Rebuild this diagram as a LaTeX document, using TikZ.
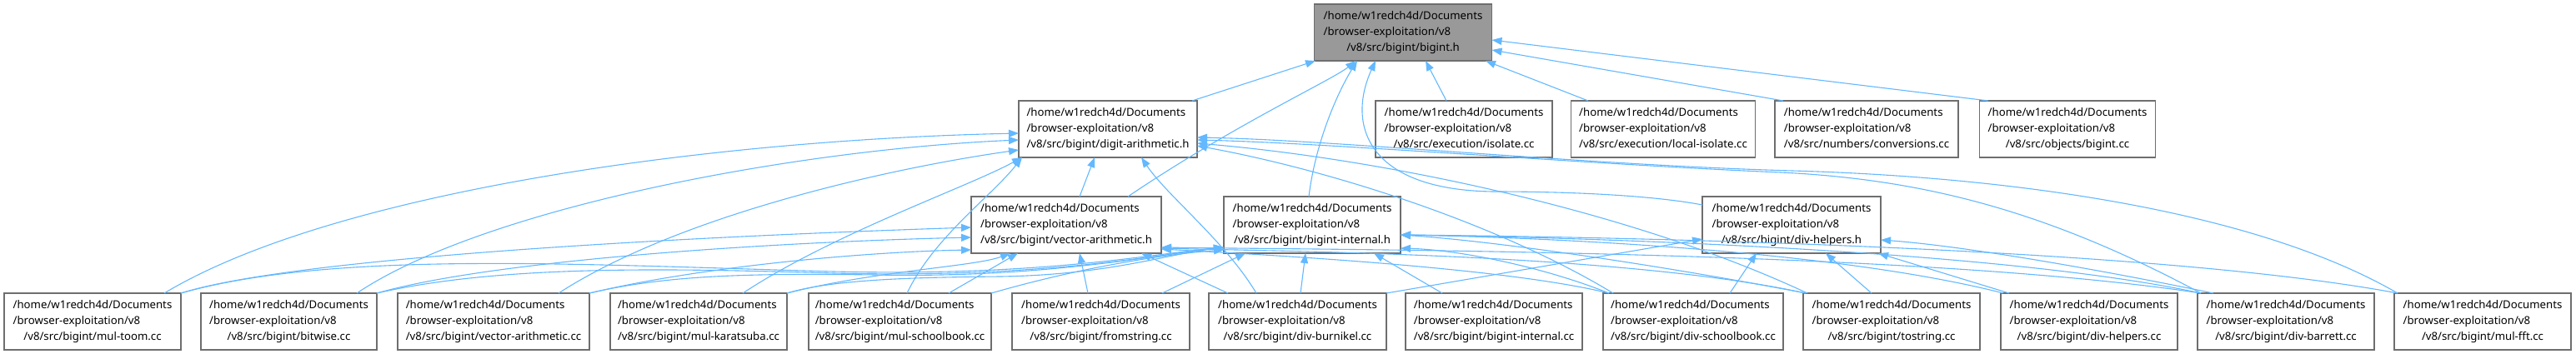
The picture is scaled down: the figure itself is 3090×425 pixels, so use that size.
\documentclass[tikz,border=0pt]{standalone}
\usepackage{fontspec}
\setmainfont{Noto Sans}
\usetikzlibrary{arrows.meta}
\definecolor{edgeblue}{HTML}{63B8FF}
\definecolor{boxgray}{HTML}{6E6E6E}
\definecolor{rootfill}{HTML}{999999}
\newcommand\lbl[1]{\begin{tabular}{@{}l@{}}/home/w1redch4d/Documents\\/browser-exploitation/v8\\\multicolumn{1}{@{}c@{}}{#1}\end{tabular}}
\newcommand\nd[3]{([shift={(#2,#3)}]#1.center)}
\tikzset{
  box/.style={draw=boxgray, line width=1.4pt, fill=white, inner sep=0pt, minimum height=68pt, font=\fontsize{13.2}{19}\selectfont},
  root/.style={box, fill=rootfill},
  conn/.style={draw=edgeblue, line width=1.1pt, -{Triangle[length=12pt,width=9pt]}}
}
\begin{document}
\begin{tikzpicture}[x=1pt,y=-1pt]
\useasboundingbox (0,0) rectangle (3090,425);
% row 0
\node[root, minimum width=213pt] (big) at (1683,39) {\lbl{/v8/src/bigint/bigint.h}};
% row 1
\node[box, minimum width=214pt] (dah) at (1329,155) {\lbl{/v8/src/bigint/digit-arithmetic.h}};
\node[box, minimum width=212pt] (iso) at (1756,155) {\lbl{/v8/src/execution/isolate.cc}};
\node[box, minimum width=221pt] (liso) at (1995,155) {\lbl{/v8/src/execution/local-isolate.cc}};
\node[box, minimum width=220pt] (conv) at (2239,155) {\lbl{/v8/src/numbers/conversions.cc}};
\node[box, minimum width=211pt] (obj) at (2480,155) {\lbl{/v8/src/objects/bigint.cc}};
% row 2
\node[box, minimum width=228pt] (vah) at (1279,270) {\lbl{/v8/src/bigint/vector-arithmetic.h}};
\node[box, minimum width=212pt] (bih) at (1574,270) {\lbl{/v8/src/bigint/bigint-internal.h}};
\node[box, minimum width=214pt] (dhh) at (2149,270) {\lbl{/v8/src/bigint/div-helpers.h}};
% row 3
\node[box, minimum width=212pt] (mt) at (111,386) {\lbl{/v8/src/bigint/mul-toom.cc}};
\node[box, minimum width=211pt] (bw) at (346.5,386) {\lbl{/v8/src/bigint/bitwise.cc}};
\node[box, minimum width=230pt] (vac) at (592,386) {\lbl{/v8/src/bigint/vector-arithmetic.cc}};
\node[box, minimum width=212pt] (ka) at (838,386) {\lbl{/v8/src/bigint/mul-karatsuba.cc}};
\node[box, minimum width=219pt] (sb) at (1079.5,386) {\lbl{/v8/src/bigint/mul-schoolbook.cc}};
\node[box, minimum width=213pt] (fs) at (1320.5,386) {\lbl{/v8/src/bigint/fromstring.cc}};
\node[box, minimum width=213pt] (db) at (1556.5,386) {\lbl{/v8/src/bigint/div-burnikel.cc}};
\node[box, minimum width=212pt] (bic) at (1792,386) {\lbl{/v8/src/bigint/bigint-internal.cc}};
\node[box, minimum width=216pt] (ds) at (2031,386) {\lbl{/v8/src/bigint/div-schoolbook.cc}};
\node[box, minimum width=212pt] (ts) at (2269,386) {\lbl{/v8/src/bigint/tostring.cc}};
\node[box, minimum width=212pt] (dhc) at (2506,386) {\lbl{/v8/src/bigint/div-helpers.cc}};
\node[box, minimum width=212pt] (dbar) at (2742,386) {\lbl{/v8/src/bigint/div-barrett.cc}};
\node[box, minimum width=212pt] (fft) at (2978,386) {\lbl{/v8/src/bigint/mul-fft.cc}};

% ---- edges into bigint.h
\draw[conn] \nd{dah}{101}{-34} -- \nd{big}{-105}{34};
\draw[conn] \nd{vah}{74}{-34} .. controls (1480,150) and (1600,95) .. \nd{big}{-57}{34};
\draw[conn] \nd{bih}{-4}{-34} .. controls (1578,170) and (1605,110) .. \nd{big}{-55}{34};
\draw[conn] \nd{dhh}{-107}{-24} .. controls (1990,236) and (1900,230) .. (1791,230) .. controls (1640,228) and (1615,150) .. \nd{big}{-33}{34};
\draw[conn] \nd{iso}{-21}{-34} -- \nd{big}{27}{34};
\draw[conn] \nd{liso}{-90}{-34} -- \nd{big}{99}{34};
\draw[conn] \nd{conv}{-100}{-34} -- \nd{big}{106.5}{21};
\draw[conn] \nd{obj}{-95}{-34} -- \nd{big}{106.5}{9};

% ---- edges into digit-arithmetic.h
\draw[conn] \nd{mt}{86}{-34} .. controls (400,230) and (850,168) .. \nd{dah}{-107}{5};
\draw[conn] \nd{bw}{81.5}{-34} .. controls (580,250) and (950,180) .. \nd{dah}{-107}{13};
\draw[conn] \nd{vac}{78}{-34} .. controls (820,255) and (1080,200) .. \nd{dah}{-107}{25};
\draw[conn] \nd{ka}{53}{-34} .. controls (1000,280) and (1160,225) .. \nd{dah}{-103}{34};
\draw[conn] \nd{sb}{8.5}{-34} .. controls (1120,285) and (1190,235) .. \nd{dah}{-103}{34};
\draw[conn] \nd{vah}{16}{-34} -- \nd{dah}{-16}{34};
\draw[conn] \nd{db}{-49.5}{-34} .. controls (1470,290) and (1400,235) .. \nd{dah}{40}{34};
\draw[conn] \nd{ds}{-96}{-34} .. controls (1800,270) and (1600,205) .. \nd{dah}{107}{20};
\draw[conn] \nd{ts}{-101}{-34} .. controls (1950,250) and (1650,190) .. \nd{dah}{107}{17};
\draw[conn] \nd{dbar}{-102}{-34} .. controls (2450,250) and (2300,215) .. (2136,207) .. controls (1900,197) and (1600,172) .. \nd{dah}{107}{13};
\draw[conn] \nd{fft}{-102}{-34} .. controls (2700,250) and (2400,212) .. (2150,205) .. controls (1900,198) and (1600,168) .. \nd{dah}{107}{10};

% ---- edges into vector-arithmetic.h
\draw[conn] \nd{mt}{106}{-34} .. controls (350,310) and (800,285) .. \nd{vah}{-114}{3};
\draw[conn] \nd{bw}{105.5}{-34} .. controls (600,310) and (950,290) .. \nd{vah}{-114}{15};
\draw[conn] \nd{vac}{115}{-34} .. controls (850,318) and (1050,302) .. \nd{vah}{-114}{30};
\draw[conn] \nd{ka}{106}{-34} .. controls (1050,325) and (1170,320) .. \nd{vah}{-67}{34};
\draw[conn] \nd{sb}{58.5}{-34} -- \nd{vah}{-58}{34};
\draw[conn] \nd{fs}{-15.5}{-34} -- \nd{vah}{16}{34};
\draw[conn] \nd{db}{-83.5}{-34} -- \nd{vah}{90}{34};
\draw[conn] \nd{ds}{-101}{-34} .. controls (1800,320) and (1500,305) .. \nd{vah}{114}{29};
\draw[conn] \nd{ts}{-103}{-34} .. controls (1950,305) and (1550,302) .. \nd{vah}{114}{28};
\draw[conn] \nd{dbar}{-102}{-34} .. controls (2300,300) and (1600,300) .. \nd{vah}{114}{27};

% ---- edges into bigint-internal.h
\draw[conn] \nd{mt}{106}{-34} .. controls (400,300) and (700,318) .. (1000,326) .. controls (1250,332) and (1380,305) .. \nd{bih}{-106}{27};
\draw[conn] \nd{bw}{105.5}{-34} .. controls (600,318) and (800,322) .. (1000,328) .. controls (1250,334) and (1380,307) .. \nd{bih}{-106}{27};
\draw[conn] \nd{vac}{115}{-34} .. controls (800,330) and (900,328) .. (1050,330) .. controls (1250,334) and (1380,307) .. \nd{bih}{-106}{27};
\draw[conn] \nd{ka}{106}{-34} .. controls (1000,335) and (1100,333) .. (1200,332) .. controls (1330,330) and (1400,305) .. \nd{bih}{-106}{27};
\draw[conn] \nd{sb}{109.5}{-34} .. controls (1300,320) and (1400,305) .. \nd{bih}{-106}{30};
\draw[conn] \nd{fs}{73.5}{-34} -- \nd{bih}{-80}{34};
\draw[conn] \nd{db}{3.5}{-34} -- \nd{bih}{-8}{34};
\draw[conn] \nd{bic}{-62}{-34} -- \nd{bih}{74}{34};
\draw[conn] \nd{ds}{-101}{-34} .. controls (1850,320) and (1750,300) .. \nd{bih}{106}{28};
\draw[conn] \nd{ts}{-103}{-34} .. controls (2000,320) and (1800,290) .. \nd{bih}{106}{12};
\draw[conn] \nd{dhc}{-103}{-34} .. controls (2200,300) and (1850,285) .. \nd{bih}{106}{12};
\draw[conn] \nd{dbar}{-102}{-34} .. controls (2400,300) and (1900,285) .. \nd{bih}{106}{12};
\draw[conn] \nd{fft}{-102}{-34} .. controls (2600,300) and (2000,285) .. \nd{bih}{106}{12};

% ---- edges into div-helpers.h
\draw[conn] \nd{db}{106.5}{-34} -- \nd{dhh}{-107}{17};
\draw[conn] \nd{ds}{44}{-34} -- \nd{dhh}{-42}{34};
\draw[conn] \nd{ts}{-24}{-34} -- \nd{dhh}{41}{34};
\draw[conn] \nd{dhc}{-96}{-34} -- \nd{dhh}{104}{34};
\draw[conn] \nd{dbar}{-87}{-34} .. controls (2500,320) and (2350,295) .. \nd{dhh}{107}{18};
\end{tikzpicture}
\end{document}
